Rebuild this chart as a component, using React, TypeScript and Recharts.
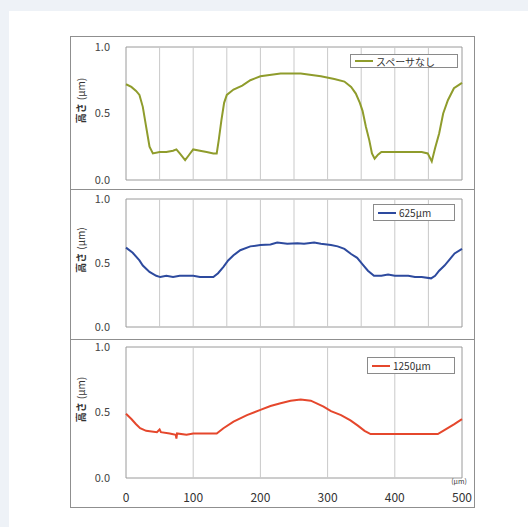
import React from 'react';
import { LineChart, Line, XAxis, YAxis, ReferenceLine, ReferenceArea, Legend, Label } from 'recharts';

const FONT = '"Noto Sans CJK JP", "DejaVu Sans", sans-serif';

// Series 1: スペーサなし
const xNoSpacer = [0, 8, 15, 20, 25, 30, 35, 40, 50, 60, 70, 75, 80, 88, 94, 100, 110, 120, 130, 135, 138, 142, 146, 150, 160, 173, 185, 200, 230, 260, 290, 310, 325, 335, 342, 348, 352, 357, 362, 366, 370, 375, 380, 400, 420, 440, 449, 455, 460, 466, 472, 479, 488, 500];
const hNoSpacer = [0.72, 0.7, 0.67, 0.64, 0.55, 0.4, 0.25, 0.2, 0.21, 0.21, 0.22, 0.23, 0.2, 0.15, 0.19, 0.23, 0.22, 0.21, 0.2, 0.2, 0.3, 0.45, 0.58, 0.64, 0.68, 0.71, 0.75, 0.78, 0.8, 0.8, 0.78, 0.76, 0.74, 0.7, 0.65, 0.58, 0.52, 0.4, 0.3, 0.2, 0.16, 0.19, 0.21, 0.21, 0.21, 0.21, 0.2, 0.14, 0.24, 0.35, 0.5, 0.6, 0.69, 0.73];

// Series 2: 625μm
const x625 = [0, 10, 20, 25, 35, 45, 51, 60, 70, 80, 90, 100, 110, 120, 130, 137, 145, 152, 160, 170, 185, 200, 215, 225, 240, 255, 265, 280, 290, 305, 315, 325, 335, 344, 352, 360, 369, 380, 390, 400, 410, 420, 430, 440, 454, 460, 466, 474, 482, 489, 500];
const h625 = [0.62, 0.58, 0.52, 0.48, 0.43, 0.4, 0.39, 0.4, 0.39, 0.4, 0.4, 0.4, 0.39, 0.39, 0.39, 0.42, 0.47, 0.52, 0.56, 0.6, 0.63, 0.64, 0.645, 0.66, 0.65, 0.655, 0.65, 0.66, 0.65, 0.64, 0.63, 0.61, 0.57, 0.54, 0.49, 0.44, 0.4, 0.4, 0.41, 0.4, 0.4, 0.4, 0.39, 0.39, 0.38, 0.4, 0.44, 0.48, 0.53, 0.575, 0.61];

// Series 3: 1250μm
const x1250 = [0, 8, 15, 21, 30, 46, 50, 52, 65, 74, 75, 76, 90, 100, 120, 135, 145, 160, 180, 200, 215, 230, 245, 260, 275, 294, 305, 320, 334, 345, 355, 364, 380, 400, 420, 440, 464, 475, 488, 500];
const h1250 = [0.49, 0.45, 0.41, 0.38, 0.36, 0.35, 0.37, 0.35, 0.34, 0.33, 0.3, 0.34, 0.33, 0.34, 0.34, 0.34, 0.38, 0.43, 0.48, 0.52, 0.55, 0.57, 0.59, 0.6, 0.59, 0.545, 0.51, 0.48, 0.44, 0.4, 0.36, 0.335, 0.335, 0.335, 0.335, 0.335, 0.335, 0.37, 0.41, 0.45];

const yTicks = [0, 0.5, 1];
const xTicks = [0, 100, 200, 300, 400, 500];
const gridFine = [50, 100, 150, 200, 250, 300, 350, 400, 450];
const gridCoarse = [100, 200, 300, 400];

const toRows = (xs: number[], ys: number[]) => xs.map((x, i) => ({ x, y: ys[i] }));

const YLabel = (props: any) => {
  const vb = props.viewBox || { x: 0, y: 0, width: 56, height: 130 };
  const x = vb.x + 10;
  const y = vb.y + vb.height / 2 - 13;
  return (
    <text x={x} y={y} transform={`rotate(-90 ${x} ${y})`} textAnchor="middle" dominantBaseline="central" fontSize={10} fill="#333" fontFamily={FONT}>
      <tspan fontWeight="bold">高さ</tspan>
      <tspan dx={3}>(μm)</tspan>
    </text>
  );
};

const XUnit = (props: any) => {
  const vb = props.viewBox || { x: 0, y: 0, width: 0, height: 0 };
  const x = vb.x + vb.width - 3;
  const y = vb.y + 3;
  return (
    <text x={x} y={y} textAnchor="middle" dominantBaseline="central" fontSize={7} fill="#333" fontFamily={FONT}>
      (μm)
    </text>
  );
};

const LegendBox = ({ color, text, width, height }: { color: string; text: string; width: number; height: number }) => (
  <div
    style={{
      width,
      height,
      boxSizing: 'border-box',
      border: '1px solid #8a8a8a',
      background: '#fff',
      display: 'flex',
      alignItems: 'center',
      paddingLeft: 4,
      fontFamily: FONT,
      fontSize: 10,
      color: '#333',
      whiteSpace: 'nowrap',
    }}
  >
    <span style={{ display: 'inline-block', width: 18, height: 2, background: color, marginRight: 3 }} />
    <span>{text}</span>
  </div>
);

type PanelProps = {
  rows: { x: number; y: number }[];
  color: string;
  name: string;
  height: number;
  top: number;
  bottom: number;
  grid: number[];
  showX: boolean;
  legend: { left: number; top: number; width: number; height: number };
};

const Panel = ({ rows, color, name, height, top, bottom, grid, showX, legend }: PanelProps) => (
  <LineChart width={405} height={height} data={rows} margin={{ top, right: 13, left: 0, bottom }}>
    <XAxis
      dataKey="x"
      type="number"
      domain={[0, 500]}
      ticks={xTicks}
      hide={!showX}
      height={showX ? 29 : 0}
      tickLine={false}
      axisLine={false}
      tickSize={0}
      tickMargin={15}
      tick={{ fontSize: 12, fill: '#333', fontFamily: FONT }}
      label={showX ? <Label content={<XUnit />} /> : undefined}
    />
    <YAxis
      type="number"
      domain={[0, 1]}
      ticks={yTicks}
      width={56}
      tickLine={false}
      axisLine={false}
      tickSize={6}
      tickMargin={10}
      tickFormatter={(v: number) => v.toFixed(1)}
      tick={{ fontSize: 11, fill: '#444', fontFamily: FONT }}
      label={<Label content={<YLabel />} />}
    />
    {grid.map((g) => (
      <ReferenceLine key={g} x={g} stroke="#c9c9c9" strokeWidth={1} />
    ))}
    <ReferenceArea x1={0} x2={500} y1={0} y2={1} fill="none" stroke="#9a9a9a" strokeWidth={1} />
    <Legend
      layout="vertical"
      align="center"
      verticalAlign="middle"
      wrapperStyle={{ left: legend.left, top: legend.top, width: legend.width, height: legend.height }}
      content={() => <LegendBox color={color} text={name} width={legend.width} height={legend.height} />}
    />
    <Line
      type="linear"
      dataKey="y"
      name={name}
      stroke={color}
      strokeWidth={2}
      dot={false}
      isAnimationActive={false}
    />
  </LineChart>
);

export default function App() {
  return (
    <div style={{ position: 'absolute', left: 0, top: 0, width: 528, height: 527, background: '#eef2f7', overflow: 'hidden', fontFamily: FONT }}>
      <div style={{ position: 'absolute', left: 9, top: 11, right: 0, bottom: 0, background: '#fff' }} />
      <div style={{ position: 'absolute', left: 70, top: 36, width: 405, height: 472, border: '1px solid #8f8f8f', boxSizing: 'border-box' }} />
      <div style={{ position: 'absolute', left: 70, top: 189, width: 405, height: 1, background: '#8f8f8f' }} />
      <div style={{ position: 'absolute', left: 70, top: 339, width: 405, height: 1, background: '#8f8f8f' }} />
      <div style={{ position: 'absolute', left: 70, top: 36 }}>
        <Panel
          rows={toRows(xNoSpacer, hNoSpacer)}
          color="#8f9c2c"
          name="スペーサなし"
          height={153}
          top={11}
          bottom={9}
          grid={gridFine}
          showX={false}
          legend={{ left: 280, top: 18, width: 108, height: 14 }}
        />
      </div>
      <div style={{ position: 'absolute', left: 70, top: 189 }}>
        <Panel
          rows={toRows(x625, h625)}
          color="#2d4a9e"
          name="625μm"
          height={150}
          top={10}
          bottom={12}
          grid={gridFine}
          showX={false}
          legend={{ left: 303, top: 15, width: 82, height: 17 }}
        />
      </div>
      <div style={{ position: 'absolute', left: 70, top: 339 }}>
        <Panel
          rows={toRows(x1250, h1250)}
          color="#e5472c"
          name="1250μm"
          height={168}
          top={8}
          bottom={0}
          grid={gridCoarse}
          showX={true}
          legend={{ left: 297, top: 18, width: 88, height: 17 }}
        />
      </div>
    </div>
  );
}
